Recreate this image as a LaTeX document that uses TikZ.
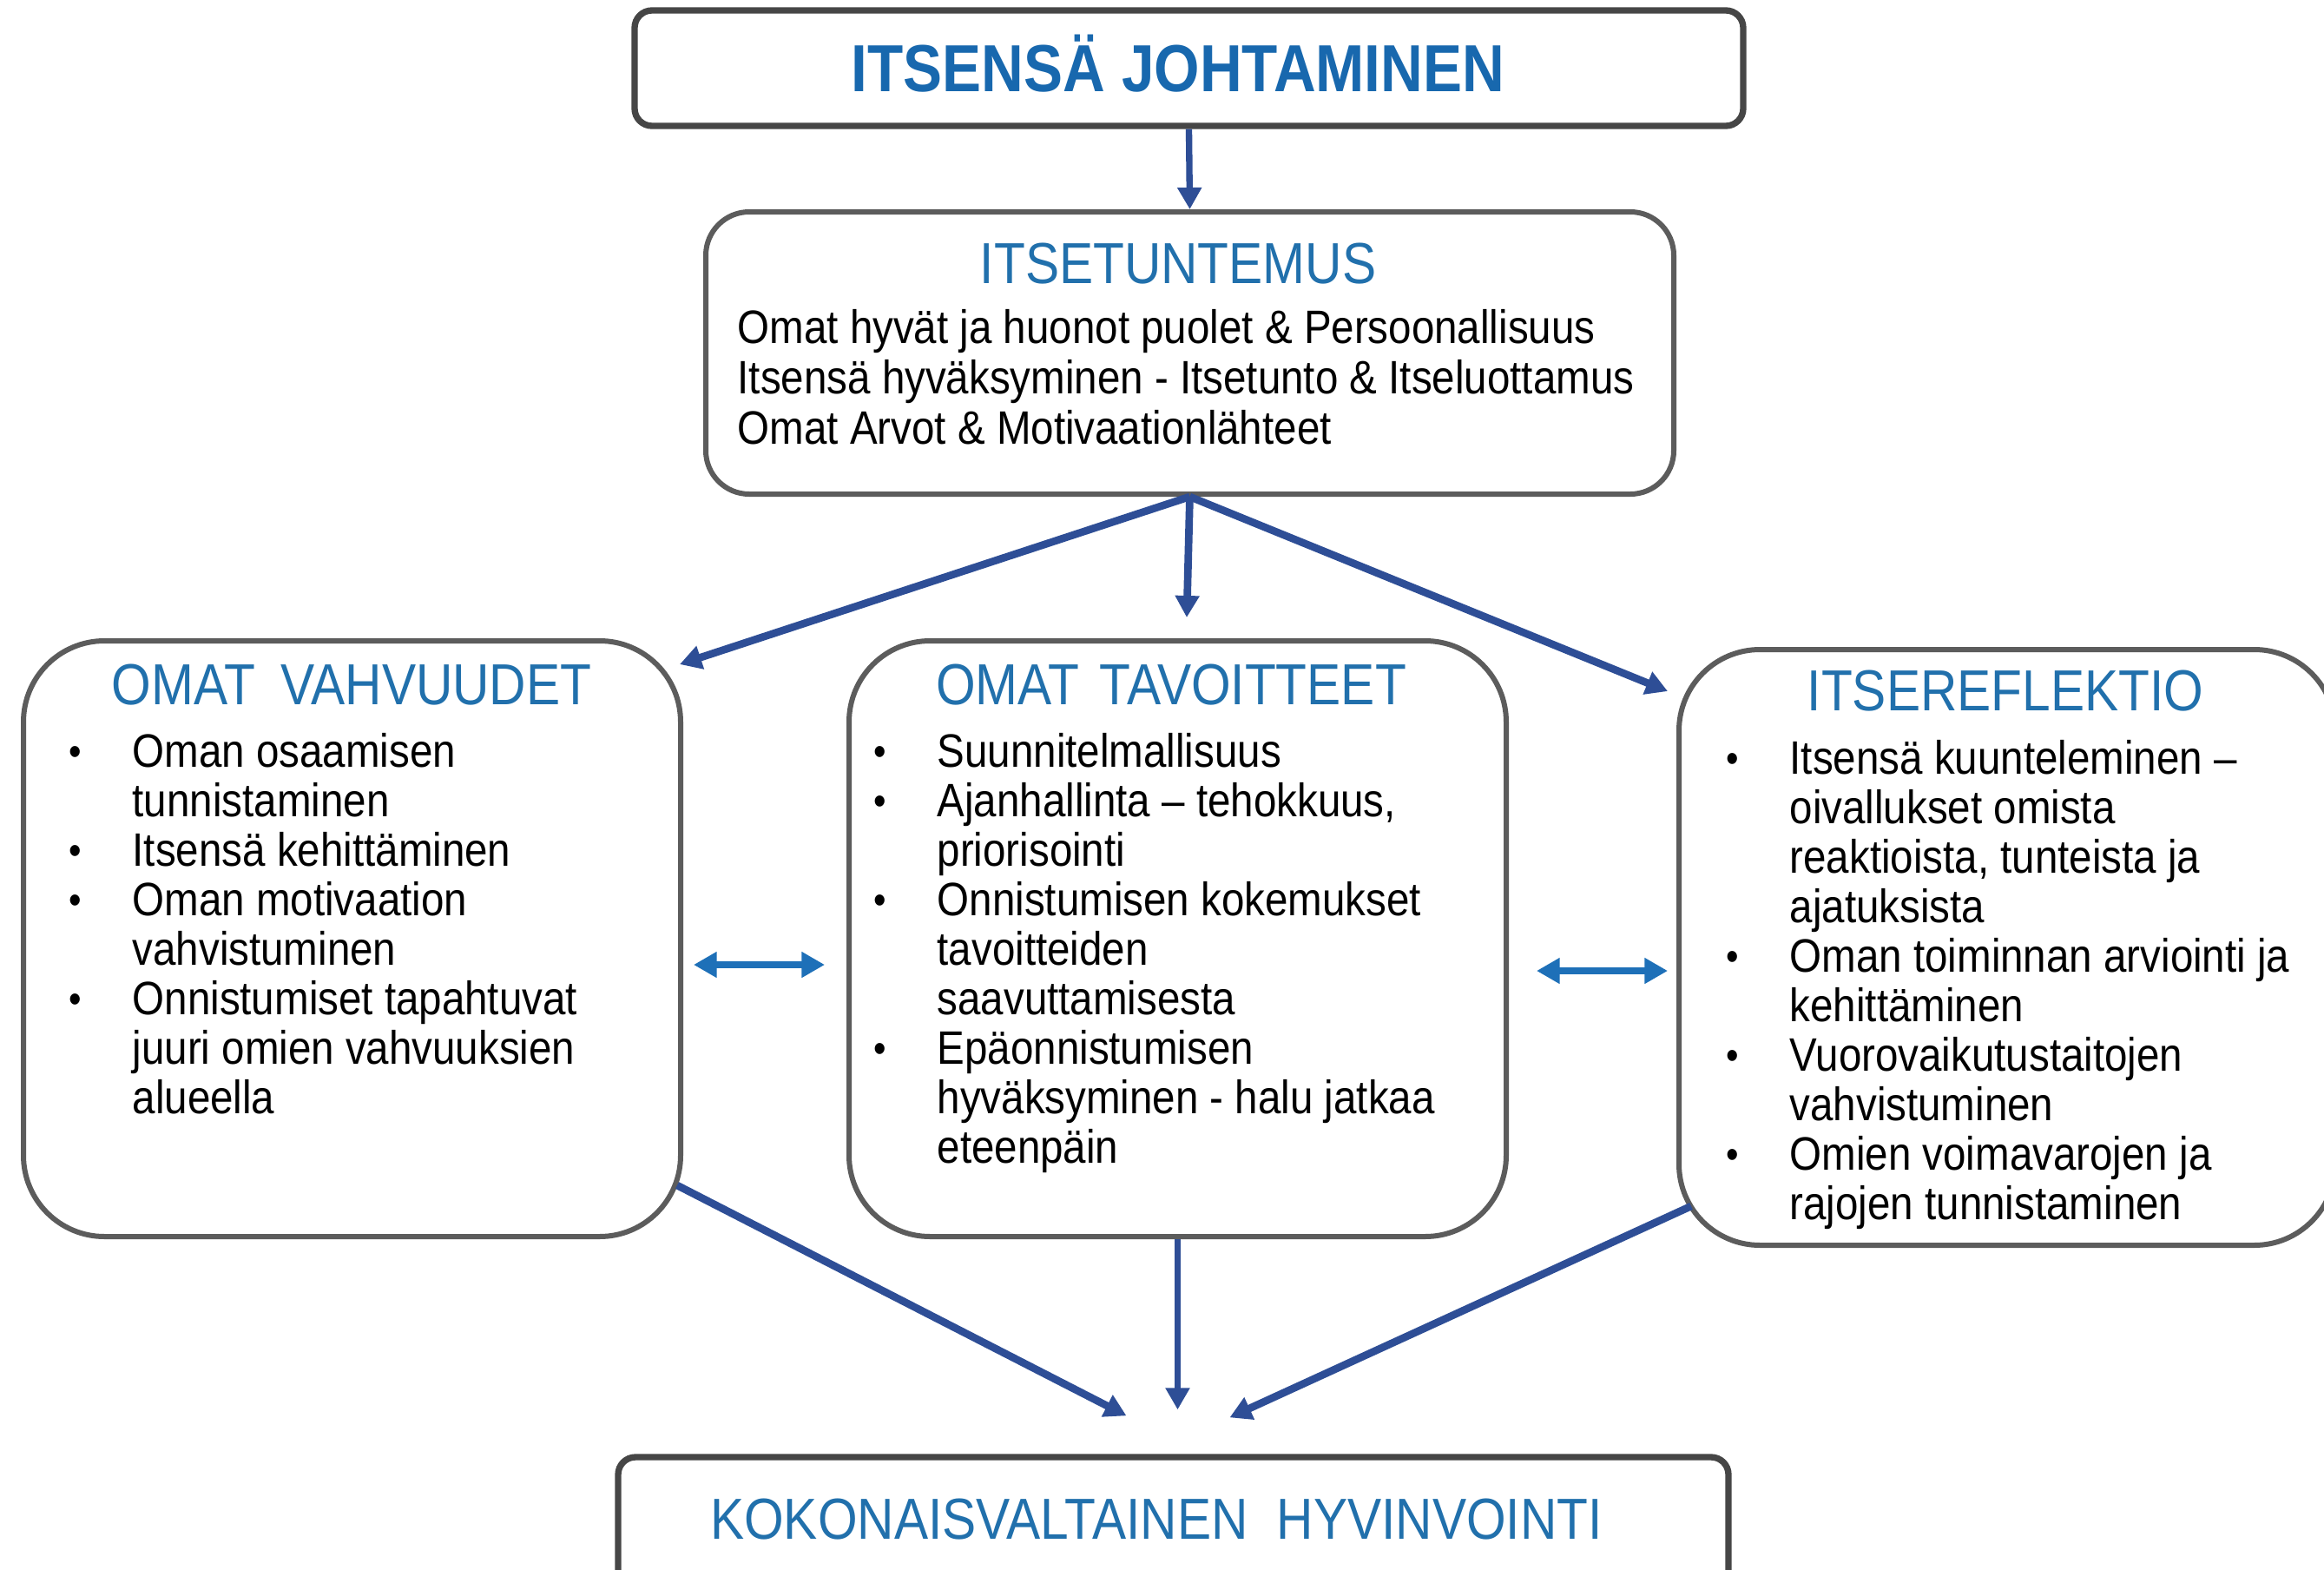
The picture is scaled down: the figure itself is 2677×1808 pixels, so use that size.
\documentclass[tikz,border=0pt]{standalone}
\usepackage{fontspec}
\setmainfont{Liberation Sans}[FakeStretch=0.88]
\usetikzlibrary{arrows.meta,calc}
\definecolor{ttl}{RGB}{33,112,172}
\definecolor{ttlb}{RGB}{24,104,174}
\definecolor{navy}{RGB}{46,78,150}
\definecolor{dbl}{RGB}{30,112,184}
\definecolor{bord}{RGB}{92,92,92}
\definecolor{bordd}{RGB}{70,70,70}
\newcommand\bl{\makebox[22.5pt][l]{\hspace*{0.5pt}\raisebox{0.5pt}{\scalebox{0.87}{\textbullet}}}}
\newcommand\ct{\hspace*{22.5pt}}
\newcommand\bodyfont{\fontsize{16.2pt}{17.1pt}\selectfont}
\begin{document}
\begin{tikzpicture}[x=0.3pt,y=-0.3pt,
  box/.style={draw=bord, line width=1.8pt, fill=white, inner sep=0pt, rectangle},
  ttlnode/.style={inner sep=0pt, anchor=base, text=ttl, font=\fontsize{20pt}{24pt}\selectfont},
  bodynode/.style={inner sep=0pt, anchor=base west},
  arr/.style={draw=navy, line width=2.6pt, -{Triangle[width=8pt,length=7.5pt]}},
  darr/.style={draw=dbl, line width=2.6pt, {Triangle[width=8.5pt,length=8pt]}-{Triangle[width=8.5pt,length=8pt]}}]
\useasboundingbox (0,0) rectangle (2677,1808);
\clip (0,0) rectangle (2677,1808);
\fill[white] (0,0) rectangle (2677,1808);

% boxes
\node[box, draw=bordd, line width=2.2pt, rounded corners=6pt, minimum width=383.1pt, minimum height=39.9pt] (top) at (1369.5,78.5) {};
\node[box, rounded corners=15pt, minimum width=334.5pt, minimum height=97.5pt] (itse) at (1370.5,406.5) {};
\node[box, rounded corners=28pt, minimum width=227.1pt, minimum height=205.8pt] (lb) at (405.5,1081) {};
\node[box, rounded corners=28pt, minimum width=227.1pt, minimum height=205.8pt] (mb) at (1356.5,1081) {};
\node[box, rounded corners=28pt, minimum width=226.8pt, minimum height=205.8pt] (rb) at (2312,1091) {};
\node[box, draw=bordd, line width=2.2pt, rounded corners=6pt, minimum width=383.7pt, minimum height=45.6pt] (bot) at (1351.5,1754) {};

% titles
\node[ttlnode, text=ttlb, font=\bfseries\fontsize{23pt}{27pt}\selectfont] (topt) at (1357,105) {ITSENSÄ JOHTAMINEN};
\node[ttlnode] (itset) at (1357,326) {ITSETUNTEMUS};
\node[ttlnode] (lbt) at (405,811) {OMAT\hspace{0.45em}VAHVUUDET};
\node[ttlnode] (mbt) at (1349,811) {OMAT\hspace{0.35em}TAVOITTEET};
\node[ttlnode] (rbt) at (2310,818) {ITSEREFLEKTIO};
\node[ttlnode] (bott) at (1332,1772) {KOKONAISVALTAINEN\hspace{0.5em}HYVINVOINTI};

% body texts
\node[bodynode] (itseb) at (849,395) {\begin{minipage}[t]{330pt}\fontsize{16.2pt}{17.4pt}\selectfont
Omat hyvät ja huonot puolet \& Persoonallisuus\\
Itsensä hyväksyminen - Itsetunto \& Itseluottamus\\
Omat Arvot \& Motivaationlähteet\end{minipage}};

\node[bodynode] (lbb) at (77,883) {\begin{minipage}[t]{220pt}\bodyfont
\bl Oman osaamisen\\
\ct tunnistaminen\\
\bl Itsensä kehittäminen\\
\bl Oman motivaation\\
\ct vahvistuminen\\
\bl Onnistumiset tapahtuvat\\
\ct juuri omien vahvuuksien\\
\ct alueella\end{minipage}};

\node[bodynode] (mbb) at (1004,883) {\begin{minipage}[t]{220pt}\bodyfont
\bl Suunnitelmallisuus\\
\bl Ajanhallinta – tehokkuus,\\
\ct priorisointi\\
\bl Onnistumisen kokemukset\\
\ct tavoitteiden\\
\ct saavuttamisesta\\
\bl Epäonnistumisen\\
\ct hyväksyminen - halu jatkaa\\
\ct eteenpäin\end{minipage}};

\node[bodynode] (rbb) at (1986,891) {\begin{minipage}[t]{220pt}\bodyfont
\bl Itsensä kuunteleminen –\\
\ct oivallukset omista\\
\ct reaktioista, tunteista ja\\
\ct ajatuksista\\
\bl Oman toiminnan arviointi ja\\
\ct kehittäminen\\
\bl Vuorovaikutustaitojen\\
\ct vahvistuminen\\
\bl Omien voimavarojen ja\\
\ct rajojen tunnistaminen\end{minipage}};

% connectors
\draw[arr, line width=2.2pt] (top.south) -- (itse.north);
\draw[arr] (itse.south) -- ($(lb.north east)+(-4,30)$);
\draw[arr] (itse.south) -- ($(mb.north)+(10.5,-24)$);
\draw[arr] (itse.south) -- ($(rb.north west)+(-10,51)$);

\draw[darr] ($(lb.east)+(12,30)$) -- ($(mb.west)+(-25,30)$);
\draw[darr] ($(mb.east)+(32,37)$) -- ($(rb.west)+(-10,27)$);

\draw[arr] ($(lb.south east)+(-7,-62)$) -- ($(bot.north)+(-54,-44)$);
\draw[arr, line width=1.9pt] (mb.south) -- ($(bot.north)+(5,-51)$);
\draw[arr] ($(rb.south west)+(17,-48)$) -- ($(bot.north)+(65,-42)$);
\end{tikzpicture}
\end{document}
